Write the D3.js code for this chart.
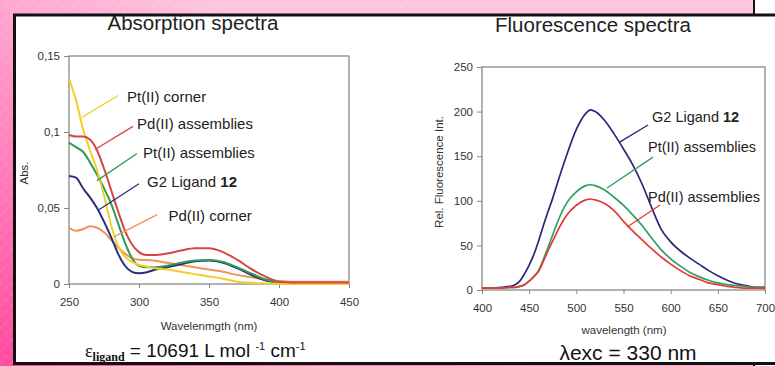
<!DOCTYPE html>
<html>
<head>
<meta charset="utf-8">
<script src="https://cdn.jsdelivr.net/npm/d3@7"></script>
<style>
  html, body { margin: 0; padding: 0; background: #fff; }
  svg { display: block; font-family: "Liberation Sans", Arial, sans-serif; }
</style>
</head>
<body>
<svg id="chart" width="775" height="366"></svg>
<script>
// ---- absorption spectra data (Abs. vs wavelength, nm) ----
const absWavelengths = [250, 255, 260, 265, 270, 275, 280, 285, 290, 295, 300, 305, 310, 320, 330, 340, 350, 360, 370, 380, 390, 400, 410, 420, 430, 440, 450];
const absPtCorner   = [0.135, 0.121, 0.102, 0.088, 0.075, 0.058, 0.039, 0.025, 0.018, 0.0145, 0.0125, 0.0115, 0.0105, 0.0095, 0.008, 0.0065, 0.005, 0.0035, 0.0015, 0.0008, 0.0004, 0.0001, 0, 0, 0, 0, 0];
const absPdAssembly = [0.098, 0.097, 0.097, 0.095, 0.088, 0.076, 0.062, 0.048, 0.035, 0.026, 0.021, 0.019, 0.019, 0.020, 0.022, 0.0235, 0.0235, 0.021, 0.016, 0.010, 0.005, 0.0015, 0.001, 0.001, 0.001, 0.001, 0.001];
const absPtAssembly = [0.093, 0.090, 0.087, 0.080, 0.072, 0.063, 0.053, 0.040, 0.027, 0.017, 0.012, 0.011, 0.011, 0.012, 0.014, 0.0155, 0.0158, 0.0145, 0.011, 0.007, 0.003, 0.001, 0.0005, 0.0005, 0.0005, 0.0005, 0.0005];
const absG2Ligand   = [0.071, 0.070, 0.063, 0.057, 0.050, 0.041, 0.031, 0.020, 0.012, 0.008, 0.007, 0.0075, 0.009, 0.011, 0.013, 0.015, 0.0155, 0.014, 0.0105, 0.006, 0.0025, 0.001, 0.0005, 0.0005, 0.0005, 0.0005, 0.0005];
const absPdCorner   = [0.037, 0.035, 0.036, 0.038, 0.037, 0.034, 0.029, 0.024, 0.020, 0.017, 0.016, 0.0158, 0.0155, 0.014, 0.0125, 0.011, 0.0095, 0.008, 0.006, 0.0045, 0.003, 0.002, 0.0015, 0.0015, 0.0015, 0.0015, 0.0015];
const absXTicks = [250, 300, 350, 400, 450];
const absYTicks = [0, 0.05, 0.1, 0.15];
const absYLabels = ["0", "0,05", "0,1", "0,15"];

// ---- fluorescence spectra data (Rel. Fluorescence Int. vs wavelength, nm) ----
const flWavelengths = [400, 410, 420, 430, 435, 440, 445, 450, 455, 460, 465, 470, 475, 480, 490, 500, 510, 515, 520, 530, 540, 550, 560, 570, 580, 590, 600, 610, 620, 630, 640, 650, 660, 670, 680, 690, 700];
const flG2Ligand   = [2, 2, 3, 4, 6, 10, 18, 28, 40, 55, 72, 88, 103, 120, 152, 180, 198, 202, 200, 190, 175, 158, 140, 118, 92, 68, 54, 44, 36, 29, 22, 16, 11, 7, 5, 3, 3];
const flPtAssembly = [2, 2, 2, 3, 3, 4, 6, 10, 15, 22, 34, 48, 62, 76, 98, 110, 117, 118, 117, 112, 104, 95, 84, 72, 58, 45, 35, 27, 20, 15, 11, 8, 6, 5, 4, 3, 3];
const flPdAssembly = [2, 2, 2, 3, 3, 4, 6, 10, 15, 21, 32, 44, 55, 66, 84, 95, 101, 102, 101, 97, 89, 77, 66, 56, 46, 37, 29, 22, 16, 12, 8, 6, 4, 3, 2, 2, 2];
const flXTicks = [400, 450, 500, 550, 600, 650, 700];
const flYTicks = [0, 50, 100, 150, 200, 250];

const svg = d3.select("#chart");
const defs = svg.append("defs");

// ---- slide background ----
const grad = defs.append("linearGradient")
  .attr("id", "pinkGrad")
  .attr("gradientUnits", "userSpaceOnUse")
  .attr("x1", 0).attr("y1", 366).attr("x2", 200).attr("y2", 0);
grad.append("stop").attr("offset", 0).attr("stop-color", "#ff4a9e");
grad.append("stop").attr("offset", 1).attr("stop-color", "#ffc4df");

const stripes = defs.append("pattern")
  .attr("id", "stripes")
  .attr("patternUnits", "userSpaceOnUse")
  .attr("width", 8).attr("height", 8)
  .attr("patternTransform", "rotate(45)");
stripes.append("line")
  .attr("x1", 0).attr("y1", 0).attr("x2", 0).attr("y2", 8)
  .attr("stroke", "#fff").attr("stroke-width", 1.2)
  .attr("stroke-dasharray", "3 2").attr("opacity", 0.25);

svg.append("rect").attr("x", 0).attr("y", 0).attr("width", 754).attr("height", 366).attr("fill", "url(#pinkGrad)");
svg.append("rect").attr("x", 0).attr("y", 0).attr("width", 754).attr("height", 366).attr("fill", "url(#stripes)");
svg.append("line").attr("x1", 754).attr("x2", 754).attr("y1", 0).attr("y2", 366).attr("stroke", "#111").attr("stroke-width", 2);
svg.append("rect").attr("x", 14.5).attr("y", 15).attr("width", 800).attr("height", 348.5)
  .attr("fill", "#fff").attr("stroke", "#111").attr("stroke-width", 3);

// ---- helpers ----
function drawPanel(cfg) {
  const g = svg.append("g");
  const x = d3.scaleLinear().domain(cfg.xDomain).range(cfg.xRange);
  const y = d3.scaleLinear().domain(cfg.yDomain).range(cfg.yRange);

  // title
  g.append("text")
    .attr("x", cfg.titleX).attr("y", cfg.titleY)
    .attr("text-anchor", "middle")
    .attr("font-size", 20.5).attr("fill", "#222")
    .text(cfg.title);

  // y axis
  const yAxis = g.append("g")
    .attr("transform", `translate(${cfg.xRange[0]},0)`)
    .call(d3.axisLeft(y).tickValues(cfg.yTicks).tickSize(5).tickPadding(4)
      .tickFormat((d, i) => cfg.yLabels[i]));
  yAxis.select(".domain").remove();
  yAxis.selectAll("line").attr("stroke", "#888");
  yAxis.selectAll("text").attr("font-size", 11.5).attr("fill", "#333")
    .attr("font-family", "'Liberation Sans', Arial, sans-serif");

  // x axis
  const xAxis = g.append("g")
    .attr("transform", `translate(0,${cfg.yRange[0]})`)
    .call(d3.axisBottom(x).tickValues(cfg.xTicks).tickSize(4).tickPadding(10));
  xAxis.select(".domain").remove();
  xAxis.selectAll("line").attr("stroke", "#888");
  xAxis.selectAll("text").attr("font-size", 11.5).attr("fill", "#333")
    .attr("font-family", "'Liberation Sans', Arial, sans-serif");

  // plot frame
  g.append("rect")
    .attr("x", cfg.xRange[0]).attr("y", cfg.yRange[1])
    .attr("width", cfg.xRange[1] - cfg.xRange[0])
    .attr("height", cfg.yRange[0] - cfg.yRange[1])
    .attr("fill", "none").attr("stroke", "#7f7f7f").attr("stroke-width", 1.2);

  // axis titles
  g.append("text")
    .attr("x", cfg.xLabelX).attr("y", cfg.xLabelY)
    .attr("text-anchor", "middle").attr("font-size", 11.5).attr("fill", "#333")
    .text(cfg.xLabel);
  g.append("text")
    .attr("transform", `translate(${cfg.yLabelX},${cfg.yLabelY}) rotate(-90)`)
    .attr("text-anchor", "middle").attr("font-size", 11.5).attr("fill", "#333")
    .text(cfg.yLabel);

  // curves
  const line = d3.line()
    .x(d => x(d[0]))
    .y(d => y(d[1]))
    .curve(d3.curveMonotoneX);
  cfg.series.forEach(s => {
    g.append("path")
      .datum(cfg.wavelengths.map((w, i) => [w, s.values[i]]))
      .attr("d", line)
      .attr("fill", "none")
      .attr("stroke", s.color)
      .attr("stroke-width", cfg.lineWidth)
      .attr("stroke-linejoin", "round");
  });

  // annotations with leader lines
  cfg.series.forEach(s => {
    const a = s.note;
    g.append("line")
      .attr("x1", x(a.from[0])).attr("y1", y(a.from[1]))
      .attr("x2", x(a.to[0])).attr("y2", y(a.to[1]))
      .attr("stroke", s.color).attr("stroke-width", 1.3);
    const t = g.append("text")
      .attr("x", x(a.at[0])).attr("y", y(a.at[1]))
      .attr("font-size", cfg.noteSize).attr("fill", "#222");
    t.append("tspan").text(s.name);
    if (s.bold) t.append("tspan").attr("font-weight", "bold").text(s.bold);
  });
  return { x, y };
}

// ---- absorption panel ----
drawPanel({
  title: "Absorption spectra", titleX: 193, titleY: 30,
  xDomain: [250, 450], xRange: [69, 349],
  yDomain: [0, 0.15], yRange: [284, 56],
  xTicks: absXTicks, yTicks: absYTicks, yLabels: absYLabels,
  xLabel: "Wavelenmgth (nm)", xLabelX: 209, xLabelY: 330,
  yLabel: "Abs.", yLabelX: 28, yLabelY: 173,
  wavelengths: absWavelengths, lineWidth: 2, noteSize: 15,
  series: [
    { name: "Pd(II) corner", values: absPdCorner, color: "#f0935a",
      note: { from: [282, 0.031], to: [313, 0.0456], at: [321, 0.0416] } },
    { name: "G2 Ligand ", bold: "12", values: absG2Ligand, color: "#2b2c7c",
      note: { from: [271.4, 0.0489], to: [300, 0.066], at: [305.7, 0.064] } },
    { name: "Pt(II) assemblies", values: absPtAssembly, color: "#2f9a55",
      note: { from: [270, 0.068], to: [298.6, 0.0858], at: [302.9, 0.0832] } },
    { name: "Pt(II) corner", values: absPtCorner, color: "#f0d028",
      note: { from: [259.3, 0.1096], to: [285, 0.124], at: [291.4, 0.12] } },
    { name: "Pd(II) assemblies", values: absPdAssembly, color: "#d64545",
      note: { from: [268.6, 0.0885], to: [295.7, 0.1037], at: [298.6, 0.1017] } }
  ]
});

// ---- fluorescence panel ----
drawPanel({
  title: "Fluorescence spectra", titleX: 593, titleY: 32,
  xDomain: [400, 700], xRange: [482, 765],
  yDomain: [0, 250], yRange: [290, 67],
  xTicks: flXTicks, yTicks: flYTicks, yLabels: flYTicks.map(String),
  xLabel: "wavelength (nm)", xLabelX: 624, xLabelY: 334,
  yLabel: "Rel. Fluorescence Int.", yLabelX: 443, yLabelY: 172,
  wavelengths: flWavelengths, lineWidth: 1.7, noteSize: 14.5,
  series: [
    { name: "G2 Ligand ", bold: "12", values: flG2Ligand, color: "#28287e",
      note: { from: [546.3, 166], to: [576, 185], at: [580.3, 188] } },
    { name: "Pt(II) assemblies", values: flPtAssembly, color: "#2ea160",
      note: { from: [532.6, 114.3], to: [581.3, 149], at: [576, 154.7] } },
    { name: "Pd(II) assemblies", values: flPdAssembly, color: "#e23a36",
      note: { from: [553.8, 70.6], to: [588.8, 95.3], at: [576, 98.7] } }
  ]
});

// ---- footnotes ----
const eps = svg.append("text").attr("x", 85).attr("y", 357).attr("fill", "#111");
eps.append("tspan").attr("font-family", "'Liberation Serif', 'Times New Roman', serif").attr("font-size", 18).text("ε");
eps.append("tspan").attr("font-family", "'Liberation Serif', 'Times New Roman', serif").attr("font-size", 12)
  .attr("font-weight", "bold").attr("dy", 4).text("ligand");
eps.append("tspan").attr("font-size", 19).attr("dy", -4).text(" = 10691 L mol ");
eps.append("tspan").attr("font-size", 11).attr("dy", -7).text("-1");
eps.append("tspan").attr("font-size", 19).attr("dy", 7).text(" cm");
eps.append("tspan").attr("font-size", 11).attr("dy", -7).text("-1");

svg.append("text")
  .attr("x", 628).attr("y", 360)
  .attr("text-anchor", "middle")
  .attr("font-size", 21).attr("fill", "#111")
  .text("λexc = 330 nm");

// redraw bottom border
svg.append("line").attr("x1", 13).attr("x2", 775).attr("y1", 363.5).attr("y2", 363.5)
  .attr("stroke", "#111").attr("stroke-width", 3);
</script>
</body>
</html>
